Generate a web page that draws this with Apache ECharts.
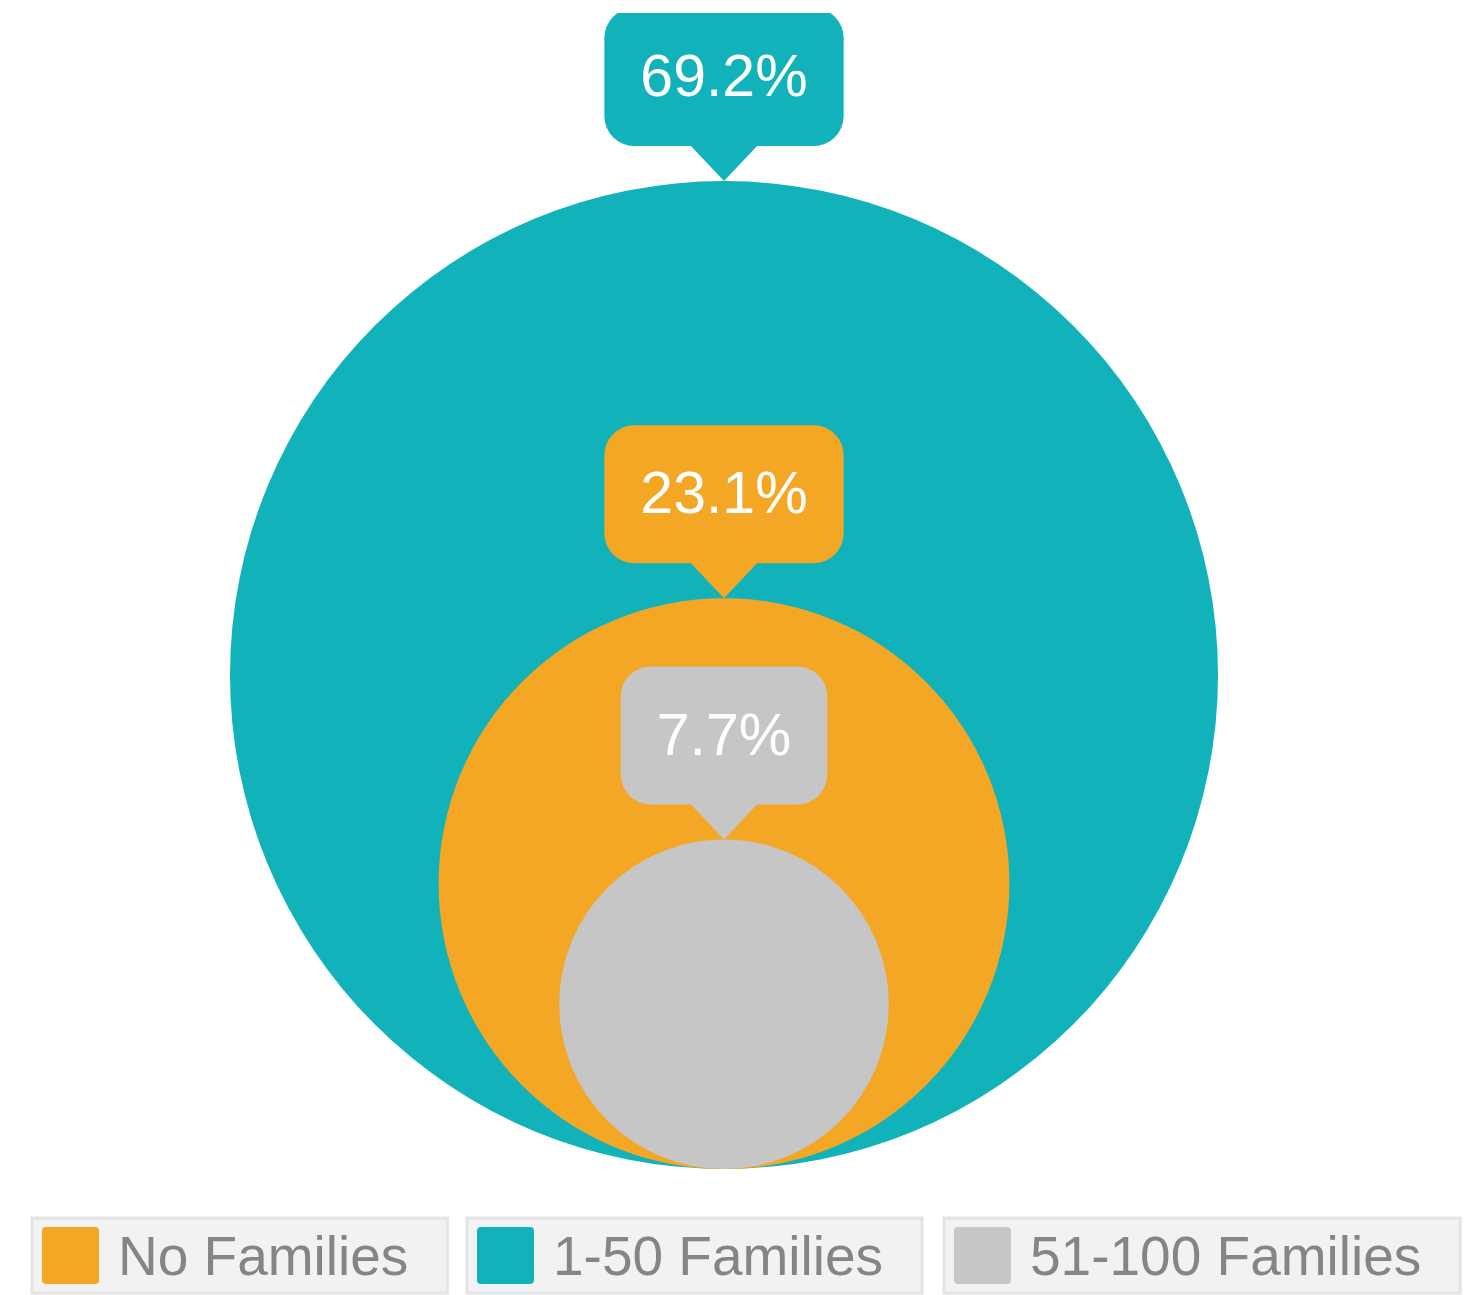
<!DOCTYPE html>
<html>
<head>
<meta charset="utf-8">
<script src="https://cdn.jsdelivr.net/npm/echarts@6/dist/echarts.min.js"></script>
<style>html,body{margin:0;padding:0;background:#fff;}#c{width:1479px;height:1295px;}</style>
</head>
<body>
<div id="c"></div>
<script>
const categories = ['1-50 Families', 'No Families', '51-100 Families'];
const values = [69.2, 23.1, 7.7];
const colors = ['#11b2ba', '#f4a724', '#c6c6c6'];
const legendOrder = ['No Families', '1-50 Families', '51-100 Families'];

const FONT = 'Liberation Sans';
// pixel scale: radius (sqrt of share) -> px
const K = 494 / Math.sqrt(values[0]);
const GRID_TOP = 13, GRID_BOTTOM_PX = 1169, W = 1479, CX = 724;

function renderItem(params, api) {
  const v = api.value(0);
  const r = Math.sqrt(v);
  const c = api.coord([0, r]);
  const top = api.coord([0, 2 * r]);
  const rad = api.size([r, 0])[0];
  const color = api.visual('color');
  return {
    type: 'group',
    children: [
      { type: 'circle', shape: { cx: c[0], cy: c[1], r: rad }, style: { fill: color } },
      { type: 'polygon', shape: { points: [[top[0] - 34, top[1] - 36], [top[0] + 34, top[1] - 36], [top[0], top[1]]] }, style: { fill: color } },
      { type: 'text', x: top[0], y: top[1] - 35,
        style: { text: v.toFixed(1) + '%', fill: '#ffffff', fontSize: 59, fontFamily: FONT,
                 align: 'center', verticalAlign: 'bottom', lineHeight: 60,
                 backgroundColor: color, padding: [42, 36, 36, 36], borderRadius: 30 } }
    ]
  };
}

const series = categories.map((name, i) => ({
  type: 'custom',
  name: name,
  coordinateSystem: 'cartesian2d',
  renderItem: renderItem,
  clip: true,
  itemStyle: { color: colors[i] },
  data: [[values[i]]],
  silent: true
}));

const legendLefts = [32, 467, 944];
const iconPath = 'path://M4,0H53A4,4 0 0 1 57,4V53A4,4 0 0 1 53,57H4A4,4 0 0 1 0,53V4A4,4 0 0 1 4,0Z';
const legends = legendOrder.map((name, i) => ({
  data: [{ name: name, icon: iconPath }],
  left: legendLefts[i],
  top: 1218,
  orient: 'horizontal',
  backgroundColor: '#f2f2f2',
  borderColor: '#e4e4e4',
  borderWidth: 3,
  borderRadius: 0,
  padding: [6, 39, 6, 10],
  itemWidth: 57,
  itemHeight: 57,
  selectedMode: false,
  formatter: '{t|{name}}',
  textStyle: {
    fontSize: 55, color: '#858585', fontFamily: FONT, padding: [0, 0, 0, 14],
    rich: { t: { fontSize: 55, color: '#858585', fontFamily: FONT, lineHeight: 49, padding: [8, 0, 0, 0] } }
  }
}));

const chart = echarts.init(document.getElementById('c'), null, { renderer: 'canvas' });
chart.setOption({
  backgroundColor: '#ffffff',
  animation: false,
  grid: { left: 0, right: 0, top: GRID_TOP, bottom: 1295 - GRID_BOTTOM_PX },
  xAxis: { type: 'value', min: -CX / K, max: (W - CX) / K, show: false, splitLine: { show: false } },
  yAxis: { type: 'value', min: 0, max: (GRID_BOTTOM_PX - GRID_TOP) / K, show: false, splitLine: { show: false } },
  legend: legends,
  series: series
});
</script>
</body>
</html>
